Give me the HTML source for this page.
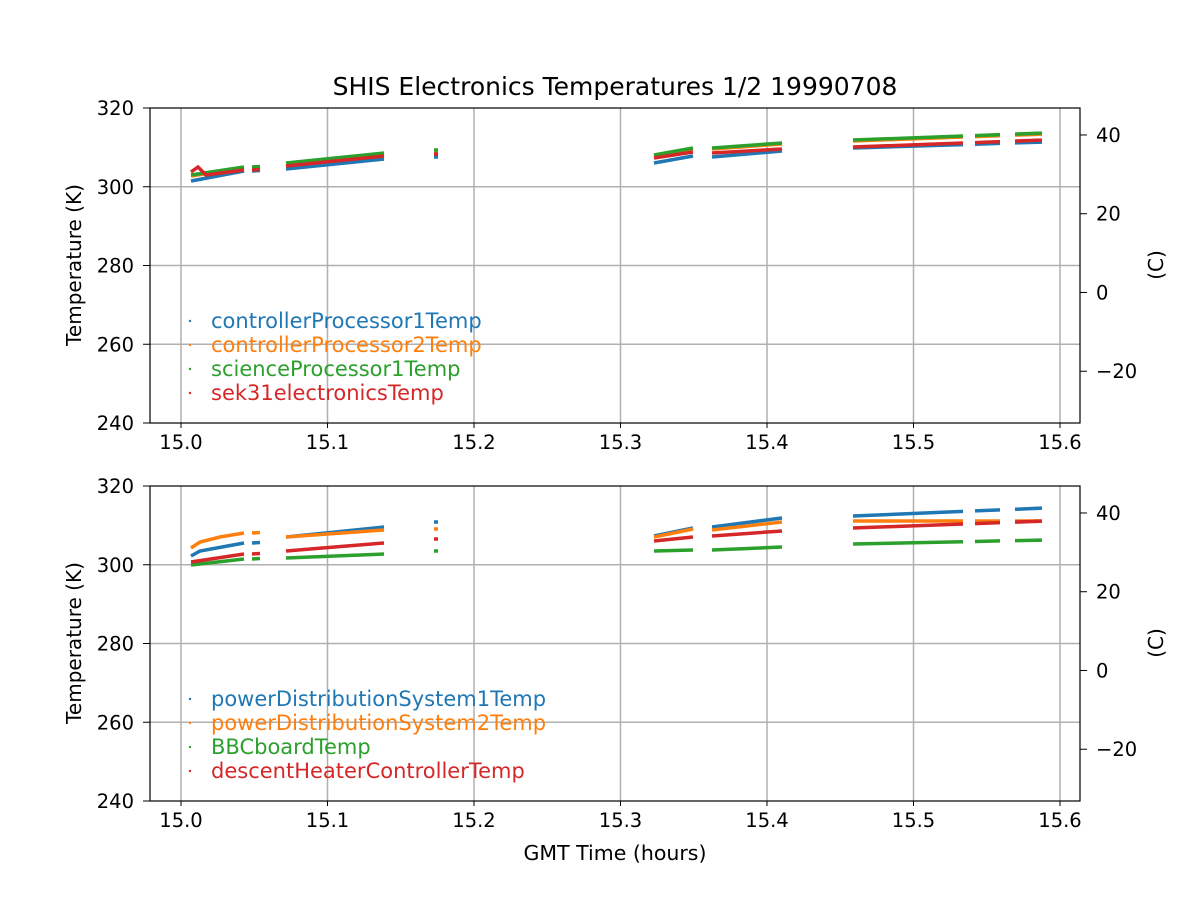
<!DOCTYPE html><html><head><meta charset="utf-8"><style>body{margin:0;background:#fff}svg{display:block}text{font-family:"DejaVu Sans","Liberation Sans",sans-serif;fill:#000}</style></head><body>
<svg id="s" width="1200" height="900" xmlns="http://www.w3.org/2000/svg"></svg>
<script>
const s=document.getElementById('s');let h='';
h+='<text x="615" y="95" font-size="25" text-anchor="middle">SHIS Electronics Temperatures 1/2 19990708</text>';
const X0=181,XP=146.5;
function panel(top,series,names,xlabel){
 const L=150,R=1080,B=top+315;
 for(let i=0;i<7;i++){const x=X0+i*XP;h+=`<line x1="${x}" y1="${top}" x2="${x}" y2="${B}" stroke="#b0b0b0" stroke-width="1.5"/>`;
  h+=`<line x1="${x}" y1="${B}" x2="${x}" y2="${B+5}" stroke="#000"/><text x="${x}" y="${B+26}" font-size="19.5" text-anchor="middle">${(15+i/10).toFixed(1)}</text>`;}
 for(let k=0;k<5;k++){const y=top+k*78.75;const v=320-20*k;if(k>0&&k<4)h+=`<line x1="${L}" y1="${y}" x2="${R}" y2="${y}" stroke="#b0b0b0" stroke-width="1.5"/>`;
  h+=`<line x1="${L-7}" y1="${y}" x2="${L}" y2="${y}" stroke="#000"/><text x="${L-16}" y="${y+7}" font-size="19.5" text-anchor="end">${v}</text>`;}
 for(const c of [40,20,0,-20]){const y=top+(320-273.15-c)*3.9375;h+=`<line x1="${R}" y1="${y}" x2="${R+7}" y2="${y}" stroke="#000"/><text x="${R+16}" y="${y+7}" font-size="19.5">${c<0?'\u2212'+(-c):c}</text>`;}
 h+=`<text transform="translate(81,${top+157}) rotate(-90)" font-size="20" text-anchor="middle">Temperature (K)</text>`;
 h+=`<text transform="translate(1163,${top+157}) rotate(-90)" font-size="20" text-anchor="middle">(C)</text>`;
 const cols=['#1f77b4','#ff7f0e','#2ca02c','#d62728'];
 series.forEach((segs,i)=>{segs.forEach(p=>{h+=`<polyline points="${p}" fill="none" stroke="${cols[i]}" stroke-width="3.5"/>`;});});
 names.forEach((n,i)=>{const y=top+220+i*24;h+=`<circle cx="190" cy="${y-7}" r="1.2" fill="${cols[i]}"/><text x="211" y="${y}" font-size="21" style="fill:${cols[i]}">${n}</text>`;});
 h+=`<rect x="${L}" y="${top}" width="${R-L}" height="315" fill="none" stroke="#000" stroke-width="1.2"/>`;
 if(xlabel)h+=`<text x="615" y="${B+59}" font-size="20.5" text-anchor="middle">${xlabel}</text>`;
}
function lin(a,b,segs){return segs.map(([x1,x2])=>{const f=x=>a[1]+(b[1]-a[1])*(x-a[0])/(b[0]-a[0]);return `${x1},${f(x1).toFixed(1)} ${x2},${f(x2).toFixed(1)}`;});}
const S3=[[853,963],[975,1000],[1015,1042],[1035,1039]];
function ser(a){
 let r=[];r.push(`191,${a[0][0]} 244,${a[0][1]}`);r.push(`252,${a[0][1]} 260,${a[0][1]-0.5}`);r.push(`286,${a[1][0]} 384,${a[1][1]}`);r.push(`434,${a[2]} 438,${a[2]}`);
 r.push(`654,${a[3][0]} 693,${a[3][1]}`);r.push(`712,${a[4][0]} 782,${a[4][1]}`);r=r.concat(lin([853,a[5][0]],[1045,a[5][1]],S3));return r;}
const top1=[ser([[181,171],[169,159],157,[163,156],[157,151],[148,142]]),
 ser([[176,168],[164,154],151,[156,149],[149,144],[141,134]]),
 ser([[175,167],[163,153],150,[155,148],[148,143],[140,133]]),
 ser([[172,170],[166,156],154,[158,152],[153,149],[147,140]])];
top1[3][0]='191,172 198,167 206,175 244,170';
panel(108,top1,['controllerProcessor1Temp','controllerProcessor2Temp','scienceProcessor1Temp','sek31electronicsTemp']);
const bot=[ser([[556,543],[537,527],522,[536,528],[527,518],[516,508]]),
 ser([[547,533],[537,530],529,[537,529],[530,522],[521,521]]),
 ser([[565,559],[558,554],551,[551,550],[550,547],[544,540]]),
 ser([[562,554],[551,543],539,[541,537],[536,531],[528,521]])];
bot[0][0]='191,556 200,551 244,543';bot[1][0]='191,548 200,542 220,537 244,533';
panel(486,bot,['powerDistributionSystem1Temp','powerDistributionSystem2Temp','BBCboardTemp','descentHeaterControllerTemp'],'GMT Time (hours)');
s.innerHTML=h;
</script></body></html>
